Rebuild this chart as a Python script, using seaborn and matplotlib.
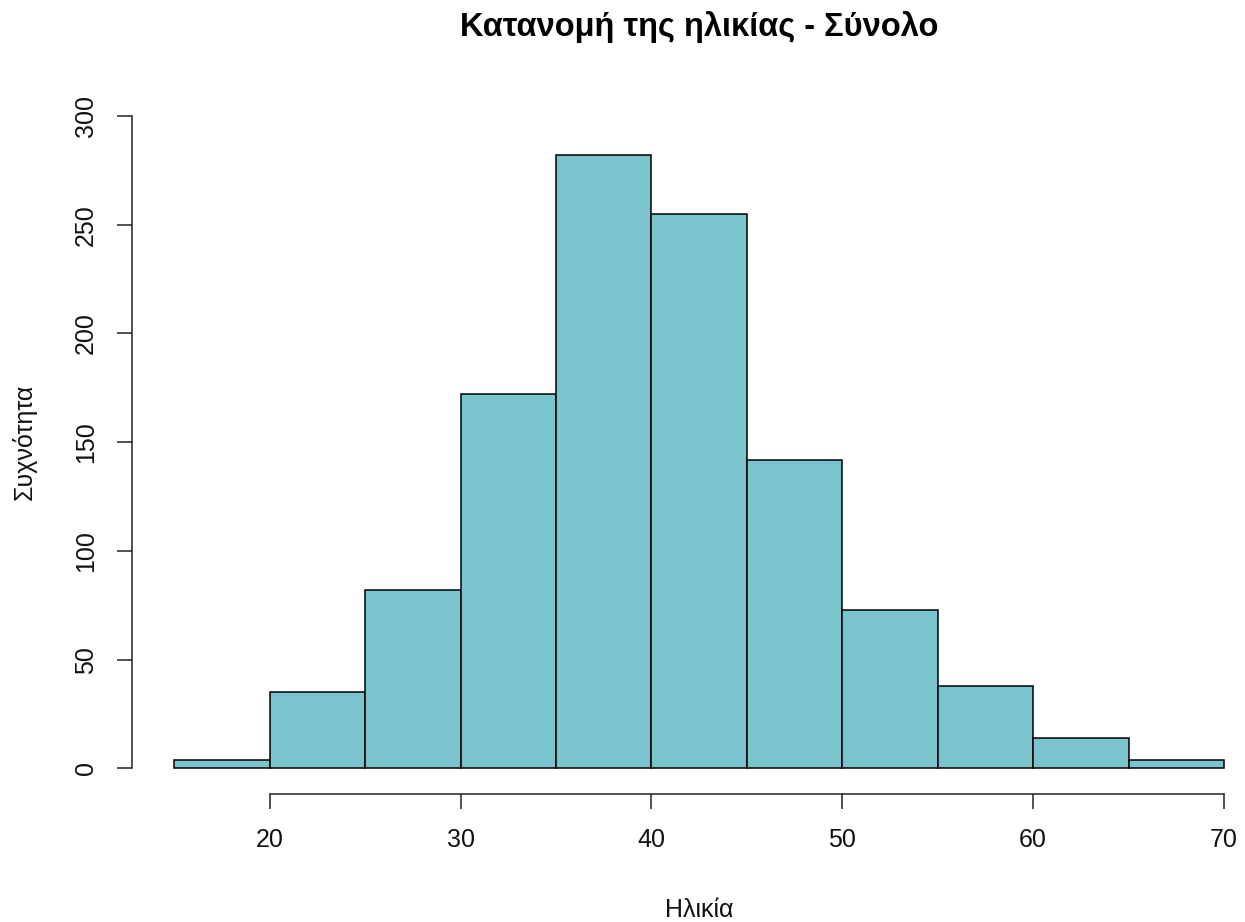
import numpy as np
import pandas as pd
import matplotlib
matplotlib.use("Agg")
import matplotlib.pyplot as plt
import seaborn as sns

# Age bins (5-year classes) and their frequencies
bin_edges = [15, 20, 25, 30, 35, 40, 45, 50, 55, 60, 65, 70]
counts = [4, 35, 82, 172, 282, 255, 142, 73, 38, 14, 4]
x_ticks = [20, 30, 40, 50, 60, 70]
y_ticks = [0, 50, 100, 150, 200, 250, 300]

title = "Κατανομή της ηλικίας - Σύνολο"
x_label = "Ηλικία"
y_label = "Συχνότητα"

sns.set_theme(style="white")
plt.rcParams["font.family"] = ["Liberation Sans", "DejaVu Sans"]

mids = [(a + b) / 2 for a, b in zip(bin_edges[:-1], bin_edges[1:])]
df = pd.DataFrame({"age": mids, "n": counts})

fig = plt.figure(figsize=(12.45, 9.22), dpi=100)
ax = fig.add_axes([0.1064, 0.1384, 0.9104, 0.7641])

sns.histplot(data=df, x="age", weights="n", bins=bin_edges, ax=ax,
             color="#7AC5CD", alpha=1.0, edgecolor="black", linewidth=1.1)

ax.set_xlim(12.8, 72.2)
ax.set_ylim(-12, 312)

for side in ("top", "right"):
    ax.spines[side].set_visible(False)
ax.spines["left"].set_bounds(0, 300)
ax.spines["bottom"].set_bounds(20, 70)
for side in ("left", "bottom"):
    ax.spines[side].set_color("#222222")
    ax.spines[side].set_linewidth(1.1)

ax.set_xticks(x_ticks)
ax.set_xticklabels([str(v) for v in x_ticks], fontsize=18, color="#111111")
ax.set_yticks(y_ticks)
ax.set_yticklabels([str(v) for v in y_ticks], fontsize=18, color="#111111",
                   rotation=90, va="center")
ax.tick_params(axis="both", which="major", length=11, width=1.1,
               color="#222222", direction="out", left=True, bottom=True)
ax.tick_params(axis="x", pad=13)
ax.tick_params(axis="y", pad=14)

ax.set_xlabel(x_label, fontsize=18, color="#111111", labelpad=33)
ax.set_ylabel(y_label, fontsize=18, color="#111111", labelpad=27)
ax.set_title(title, fontsize=23.5, fontweight="bold", color="#000000", pad=39)
ax.grid(False)

fig.savefig("out.png", dpi=100, facecolor="white")
